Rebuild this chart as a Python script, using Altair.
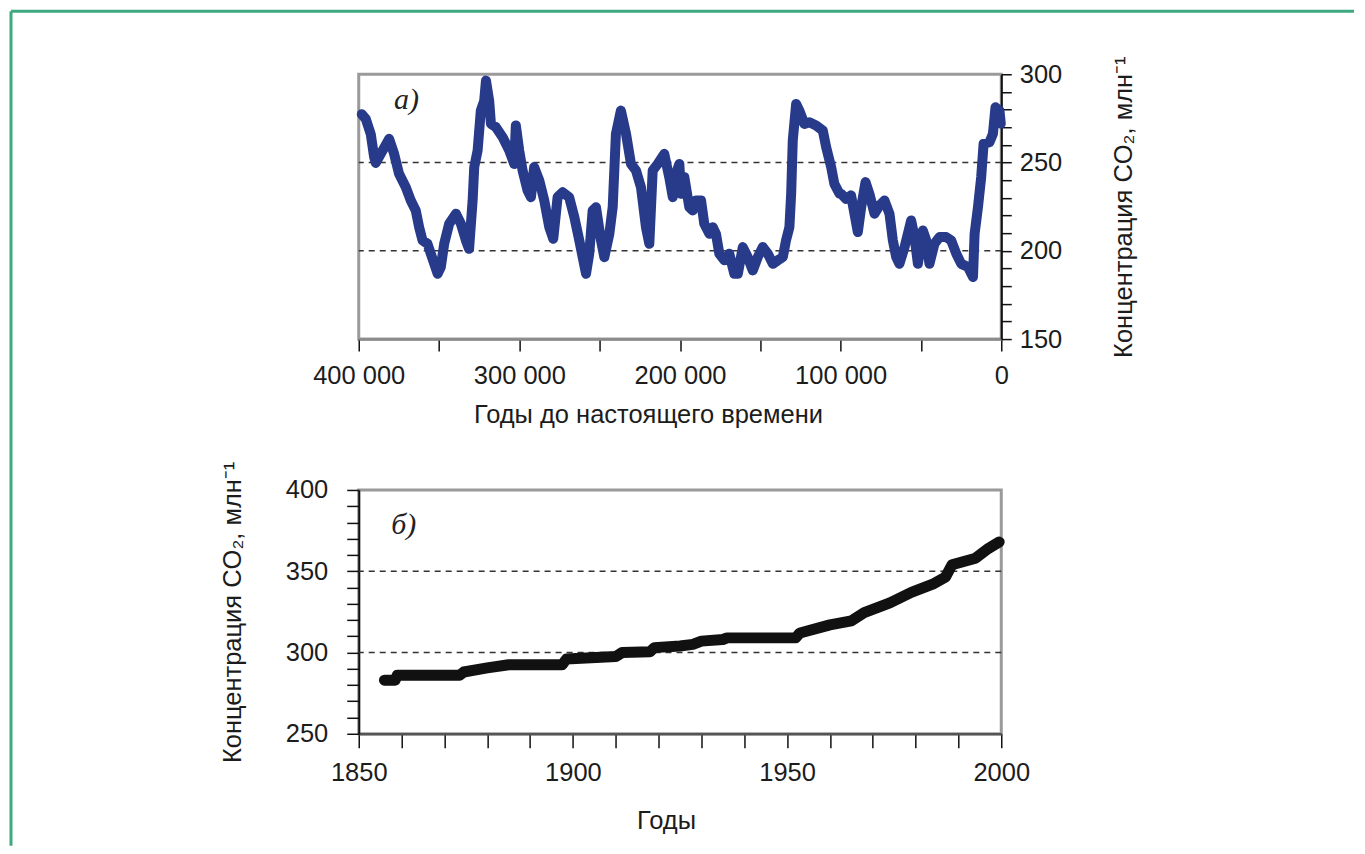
import altair as alt
import pandas as pd

FONT = "Liberation Sans"
SERIF = "Liberation Serif"

# ---- Panel a: Vostok ice core CO2 (years before present, ppm) ----
vostok_age = [398100, 395600, 392500, 390400, 389400, 381100, 378000, 374900, 370700, 367600,
              364500, 362400, 360300, 357200, 355100, 350900, 348900, 346800, 343700, 339500,
              336400, 333300, 331300, 329100, 328100, 326000, 324000, 321900, 320800, 318800,
              317700, 314600, 310400, 306300, 303200, 302200, 300100, 298000, 294900, 292800,
              290800, 287600, 284500, 281400, 278900, 276200, 273100, 269000, 265800, 262700,
              258500, 256500, 254400, 252300, 249200, 247100, 244000, 241900, 239900, 236800,
              233600, 230500, 227400, 224300, 221200, 219100, 217000, 213900, 209800, 206700,
              204500, 202500, 200400, 199400, 197300, 194200, 192100, 190000, 186900, 184900,
              181700, 179600, 177600, 175500, 172400, 169300, 166200, 164000, 160900, 157800,
              154700, 151600, 148500, 145300, 142200, 139100, 136000, 134000, 131900, 130800,
              129800, 127700, 125700, 122600, 119400, 115300, 111100, 109000, 105900, 103900,
              100700, 99700, 96600, 93500, 89300, 87200, 84500, 82100, 78900, 75800,
              72700, 69600, 67500, 65400, 63400, 60200, 56100, 54000, 51900, 48800,
              46700, 44700, 41600, 38400, 34300, 31200, 28000, 24900, 20700, 17600,
              16600, 14500, 12500, 11000, 7300, 5200, 3600, 1100, 300]
vostok_co2 = [277.4, 274.7, 266.0, 253.0, 249.8, 263.4, 255.0, 243.6, 236.0, 228.5,
              222.8, 213.4, 205.9, 204.0, 198.3, 187.0, 190.8, 204.0, 215.3, 221.0,
              215.3, 205.9, 201.1, 228.5, 247.4, 256.8, 279.4, 285.0, 296.4, 285.0,
              271.9, 270.0, 264.3, 256.8, 249.2, 271.0, 256.8, 245.5, 234.2, 230.4,
              247.4, 239.8, 228.5, 213.4, 206.8, 230.4, 233.2, 230.4, 219.1, 205.9,
              187.0, 198.3, 222.8, 224.7, 205.9, 196.4, 209.6, 224.7, 266.2, 279.4,
              266.2, 249.2, 245.5, 236.0, 213.4, 204.0, 245.5, 249.2, 254.9, 241.7,
              230.4, 243.6, 249.2, 232.3, 241.7, 224.7, 222.8, 228.5, 228.5, 215.3,
              209.6, 213.4, 209.6, 198.3, 194.6, 198.3, 187.0, 187.0, 202.1, 196.4,
              188.9, 196.4, 202.1, 198.3, 192.6, 194.6, 196.4, 205.9, 213.4, 232.3,
              262.5, 283.2, 279.4, 271.9, 272.8, 271.0, 268.1, 258.7, 247.4, 237.9,
              232.3, 232.3, 229.4, 231.4, 210.6, 224.7, 238.9, 232.3, 221.0, 225.7,
              228.5, 221.0, 205.9, 196.4, 192.6, 202.1, 217.2, 207.8, 192.6, 211.5,
              205.9, 192.6, 204.0, 207.8, 207.8, 205.9, 198.3, 192.6, 190.8, 185.1,
              209.6, 224.7, 241.7, 260.6, 261.5, 266.2, 281.3, 279.4, 272.0]

# ---- Panel b: instrumental / firn CO2 (year, ppm) ----
modern_year = [1856, 1858.5, 1859, 1873.5, 1874.5, 1880, 1885, 1897.5, 1898.5, 1910,
               1911.5, 1918, 1919, 1925, 1928, 1930, 1935, 1936, 1952, 1953,
               1960, 1965, 1968, 1974, 1979, 1984, 1987, 1988.5, 1994, 1997, 1999.5]
modern_co2 = [283, 283, 286, 286, 288, 290.5, 292.5, 292.5, 296, 297.5,
              300, 300.5, 303, 304, 305, 307, 308, 309, 309, 312,
              317, 319.5, 324.5, 330.5, 337, 342, 346.5, 354, 358, 364, 368]

grid_top = [200, 250]
grid_bottom = [300, 350]

label_a_age = [378000]
label_a_co2 = [285.6]
label_a_text = ["а)"]
label_b_year = [1857.6]
label_b_co2 = [378.5]
label_b_text = ["б)"]

y_title = "Концентрация CO₂, млн⁻¹"
BLUE = "#283a8a"
GREEN = "#3ea97f"
TXT = "#1c1c1c"
FS = 25.5

axis_common = dict(grid=False, labelFont=FONT, titleFont=FONT, labelFontSize=FS,
                   titleFontSize=FS, labelColor=TXT, titleColor=TXT,
                   titleFontWeight="normal", tickColor="#111", tickWidth=1.5,
                   labelOverlap=False, tickCount=40, labelFlush=False)

# ---------------- top panel ----------------
xs_top = alt.Scale(domain=[0, 400000], reverse=True, nice=False, zero=False)
ys_top = alt.Scale(domain=[150, 300], nice=False, zero=False)

top_df = pd.DataFrame({"age": vostok_age, "co2": vostok_co2})

top_line = alt.Chart(top_df).mark_line(color=BLUE, strokeWidth=10, strokeJoin="round",
                                       strokeCap="round").encode(
    x=alt.X("age:Q", scale=xs_top, axis=alt.Axis(
        values=list(range(0, 400001, 50000)),
        labelExpr="datum.value % 100000 == 0 ? (datum.value == 0 ? '0' : format(datum.value/1000, 'd') + ' 000') : ''",
        title="Годы до настоящего времени", orient="bottom", titleX=289.5,
        domainColor="#8a8a8a", domainWidth=2.5, tickSize=12,
        labelPadding=12, titlePadding=14, **axis_common)),
    y=alt.Y("co2:Q", scale=ys_top, axis=alt.Axis(
        values=list(range(150, 301, 10)),
        labelExpr="datum.value % 50 == 0 ? datum.label : ''",
        title=y_title, orient="right", titleAngle=270,
        domainColor="#111", domainWidth=2, tickSize=10,
        labelPadding=8, titlePadding=75, **axis_common)),
)

top_grid = alt.Chart(pd.DataFrame({"g": grid_top})).mark_rule(
    color="#333", strokeDash=[6, 5], strokeWidth=1.5).encode(
    y=alt.Y("g:Q", scale=ys_top))

top_label = alt.Chart(pd.DataFrame({"age": label_a_age, "co2": label_a_co2,
                                    "t": label_a_text})).mark_text(
    font=SERIF, fontStyle="italic", fontSize=30, align="left", baseline="middle",
    color="#222").encode(x=alt.X("age:Q", scale=xs_top), y=alt.Y("co2:Q", scale=ys_top),
                         text="t:N")

# decorative page frame (green lines at the top and left)
frame_top = alt.Chart().mark_rule(color=GREEN, strokeWidth=3).encode(
    x=alt.value(-348), x2=alt.value(996), y=alt.value(-63))
frame_left = alt.Chart().mark_rule(color=GREEN, strokeWidth=3).encode(
    x=alt.value(-348), y=alt.value(-63), y2=alt.value(772))

top = alt.layer(frame_top, frame_left, top_grid, top_line, top_label).properties(
    width=643, height=265)

# ---------------- bottom panel ----------------
xs_bot = alt.Scale(domain=[1850, 2000], nice=False, zero=False)
ys_bot = alt.Scale(domain=[250, 400], nice=False, zero=False)

bot_df = pd.DataFrame({"year": modern_year, "co2": modern_co2})

bot_line = alt.Chart(bot_df).mark_line(color="#111", strokeWidth=11, strokeJoin="round",
                                       strokeCap="round").encode(
    x=alt.X("year:Q", scale=xs_bot, axis=alt.Axis(
        values=list(range(1850, 2001, 10)),
        labelExpr="datum.value % 50 == 0 ? datum.value + '' : ''",
        title="Годы", orient="bottom", titleX=307.5,
        domainColor="#555", domainWidth=2.5, tickSize=14,
        labelPadding=13, titlePadding=22, **axis_common)),
    y=alt.Y("co2:Q", scale=ys_bot, axis=alt.Axis(
        values=list(range(250, 401, 10)),
        labelExpr="datum.value % 50 == 0 ? datum.label : ''",
        title=y_title, orient="left",
        domainColor="#111", domainWidth=2, tickSize=12,
        labelPadding=19, titlePadding=40, **axis_common)),
)

bot_grid = alt.Chart(pd.DataFrame({"g": grid_bottom})).mark_rule(
    color="#333", strokeDash=[6, 5], strokeWidth=1.5).encode(
    y=alt.Y("g:Q", scale=ys_bot))

bot_label = alt.Chart(pd.DataFrame({"year": label_b_year, "co2": label_b_co2,
                                    "t": label_b_text})).mark_text(
    font=SERIF, fontStyle="italic", fontSize=30, align="left", baseline="middle",
    color="#222").encode(x=alt.X("year:Q", scale=xs_bot), y=alt.Y("co2:Q", scale=ys_bot),
                         text="t:N")

bottom = alt.layer(bot_grid, bot_line, bot_label).properties(width=643, height=244)

chart = alt.vconcat(top, bottom, spacing=151, bounds="flush").properties(
    padding={"left": 0, "top": 0, "right": 0, "bottom": 0},
    background="white",
).configure_view(stroke="#9a9a9a", strokeWidth=3)

chart.save("out.html", embed_options={"renderer": "svg", "actions": False})
